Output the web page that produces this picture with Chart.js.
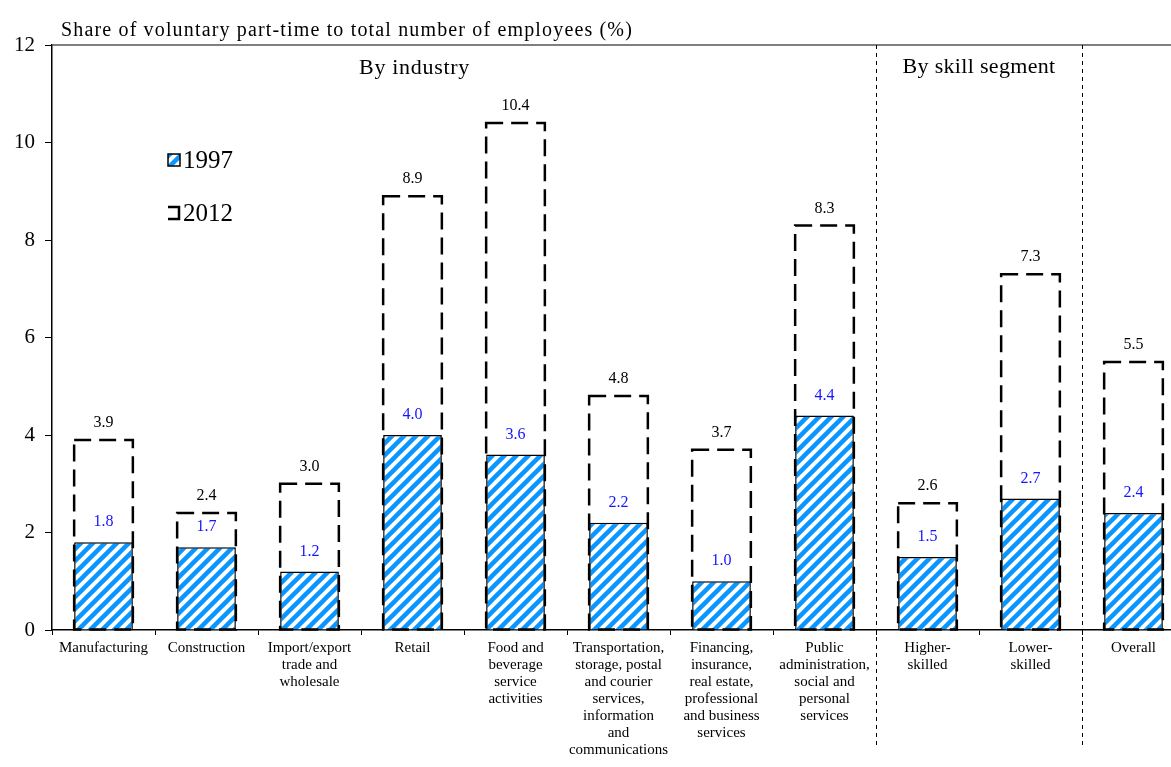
<!DOCTYPE html>
<html>
<head>
<meta charset="utf-8">
<script src="https://cdn.jsdelivr.net/npm/chart.js@4"></script>
<style>
  html, body { margin: 0; padding: 0; background: #fff; overflow: hidden; }
  canvas { display: block; }
</style>
</head>
<body>
<canvas id="partTimeChart" width="1200" height="767"></canvas>
<script>
// Categories (multi-line labels)
const categories = [
    ['Manufacturing'],
    ['Construction'],
    ['Import/export', 'trade and', 'wholesale'],
    ['Retail'],
    ['Food and', 'beverage', 'service', 'activities'],
    ['Transportation,', 'storage, postal', 'and courier', 'services,', 'information', 'and', 'communications'],
    ['Financing,', 'insurance,', 'real estate,', 'professional', 'and business', 'services'],
    ['Public', 'administration,', 'social and', 'personal', 'services'],
    ['Higher-', 'skilled'],
    ['Lower-', 'skilled'],
    ['Overall']
];

// Series values (%)
const values1997 = [1.8, 1.7, 1.2, 4.0, 3.6, 2.2, 1.0, 4.4, 1.5, 2.7, 2.4];
const values2012 = [3.9, 2.4, 3.0, 8.9, 10.4, 4.8, 3.7, 8.3, 2.6, 7.3, 5.5];

const yTicks = [0, 2, 4, 6, 8, 10, 12];

const FONT = '"Liberation Serif", "Times New Roman", serif';
const BLUE = '#0a96ff';

// Diagonal hatch for 1997 bars
function makeHatch() {
    const p = document.createElement('canvas');
    p.width = 12;
    p.height = 12;
    const g = p.getContext('2d');
    g.fillStyle = '#fff';
    g.fillRect(0, 0, 12, 12);
    g.strokeStyle = BLUE;
    g.lineWidth = 4.5;
    [[-6, 6, 6, -6], [0, 12, 12, 0], [6, 18, 18, 6]].forEach(s => {
        g.beginPath();
        g.moveTo(s[0], s[1]);
        g.lineTo(s[2], s[3]);
        g.stroke();
    });
    return g.createPattern(p, 'repeat');
}

// Draw text stretched with letter spacing to a target width
function spacedText(ctx, text, x, y, targetWidth) {
    ctx.letterSpacing = '0px';
    const w = ctx.measureText(text).width;
    const extra = Math.max(0, (targetWidth - w) / text.length);
    ctx.letterSpacing = extra + 'px';
    ctx.fillText(text, x, y);
    ctx.letterSpacing = '0px';
}

const ctxMain = document.getElementById('partTimeChart').getContext('2d');
const hatch = makeHatch();

// Draws dashed 2012 boxes, value labels, section headings, legend
const extrasPlugin = {
    id: 'extras',
    afterDatasetsDraw(chart) {
        const ctx = chart.ctx;
        const area = chart.chartArea;
        const x = chart.scales.x;

        // dashed outlines for 2012
        const meta12 = chart.getDatasetMeta(0);
        ctx.save();
        ctx.strokeStyle = '#000';
        ctx.lineWidth = 2.5;
        ctx.setLineDash([17, 8]);
        meta12.data.forEach(el => {
            const left = el.x - el.width / 2;
            ctx.strokeRect(left, el.y, el.width, el.base - el.y);
        });
        ctx.restore();

        // value labels
        ctx.save();
        ctx.font = '16px ' + FONT;
        ctx.textAlign = 'center';
        ctx.textBaseline = 'middle';
        meta12.data.forEach((el, i) => {
            ctx.fillStyle = '#000';
            ctx.fillText(values2012[i].toFixed(1), el.x, el.y - 17);
        });
        chart.getDatasetMeta(1).data.forEach((el, i) => {
            ctx.fillStyle = '#1414ff';
            ctx.fillText(values1997[i].toFixed(1), el.x, el.y - 20);
        });
        ctx.restore();

        // top border line
        ctx.save();
        ctx.strokeStyle = '#555';
        ctx.lineWidth = 1.5;
        ctx.beginPath();
        ctx.moveTo(area.left, area.top);
        ctx.lineTo(area.right, area.top);
        ctx.stroke();

        // dashed separators between groups
        ctx.strokeStyle = '#000';
        ctx.lineWidth = 1;
        ctx.setLineDash([4, 4]);
        [7.5, 9.5].forEach(v => {
            const px = Math.round((x.getPixelForValue(Math.floor(v)) + x.getPixelForValue(Math.ceil(v))) / 2) + 0.5;
            ctx.beginPath();
            ctx.moveTo(px, area.top);
            ctx.lineTo(px, 748);
            ctx.stroke();
        });
        ctx.restore();

        // headings
        ctx.save();
        ctx.fillStyle = '#000';
        ctx.textBaseline = 'middle';
        ctx.font = '20px ' + FONT;
        ctx.textAlign = 'left';
        spacedText(ctx, 'Share of voluntary part-time to total number of employees (%)', area.left + 9, 31, 572);
        ctx.font = '22px ' + FONT;
        const indW = 111;
        const indC = x.getPixelForValue(3) + 2;
        spacedText(ctx, 'By industry', indC - indW / 2, 68, indW);
        const s1 = (x.getPixelForValue(7) + x.getPixelForValue(8)) / 2;
        const s2 = (x.getPixelForValue(9) + x.getPixelForValue(10)) / 2;
        const skW = 153;
        spacedText(ctx, 'By skill segment', (s1 + s2) / 2 - skW / 2, 67, skW);

        // legend
        const lx = 168;
        ctx.fillStyle = hatch;
        ctx.fillRect(lx, 154, 12, 12);
        ctx.strokeStyle = '#000';
        ctx.lineWidth = 1.5;
        ctx.strokeRect(lx, 154, 12, 12);
        ctx.lineWidth = 2.5;
        ctx.beginPath();
        ctx.moveTo(lx, 207);
        ctx.lineTo(lx + 11, 207);
        ctx.lineTo(lx + 11, 219);
        ctx.lineTo(lx, 219);
        ctx.stroke();
        ctx.font = '25px ' + FONT;
        ctx.textAlign = 'left';
        ctx.fillStyle = '#000';
        ctx.fillText('1997', lx + 15, 161);
        ctx.fillText('2012', lx + 15, 214);
        ctx.restore();
    }
};

new Chart(ctxMain, {
    type: 'bar',
    data: {
        labels: categories,
        datasets: [
            {
                label: '2012',
                data: values2012,
                backgroundColor: 'rgba(0,0,0,0)',
                borderWidth: 0,
                grouped: false,
                barPercentage: 0.57,
                categoryPercentage: 1.0
            },
            {
                label: '1997',
                data: values1997,
                backgroundColor: hatch,
                borderColor: '#000',
                borderWidth: 1.5,
                grouped: false,
                barPercentage: 0.57,
                categoryPercentage: 1.0
            }
        ]
    },
    options: {
        responsive: false,
        animation: false,
        devicePixelRatio: 1,
        layout: {
            padding: { top: 45, right: 15, left: 0, bottom: 0 }
        },
        plugins: {
            legend: { display: false },
            title: { display: false },
            tooltip: { enabled: false }
        },
        scales: {
            x: {
                offset: true,
                grid: {
                    offset: true,
                    drawOnChartArea: false,
                    tickLength: 5,
                    color: '#000',
                    lineWidth: 1
                },
                border: { color: '#000', width: 1.5 },
                ticks: {
                    autoSkip: false,
                    maxRotation: 0,
                    minRotation: 0,
                    padding: 5,
                    color: '#000',
                    font: { family: FONT, size: 15, lineHeight: 1.13 }
                },
                afterFit: s => { s.height = 137; }
            },
            y: {
                min: 0,
                max: 12,
                afterBuildTicks: s => { s.ticks = yTicks.map(v => ({ value: v })); },
                grid: {
                    drawOnChartArea: false,
                    tickLength: 7,
                    color: '#000',
                    lineWidth: 1
                },
                border: { color: '#000', width: 1.5 },
                ticks: {
                    padding: 10,
                    color: '#000',
                    font: { family: FONT, size: 21 }
                },
                afterFit: s => { s.width = 52; }
            }
        }
    },
    plugins: [extrasPlugin]
});
</script>
</body>
</html>
